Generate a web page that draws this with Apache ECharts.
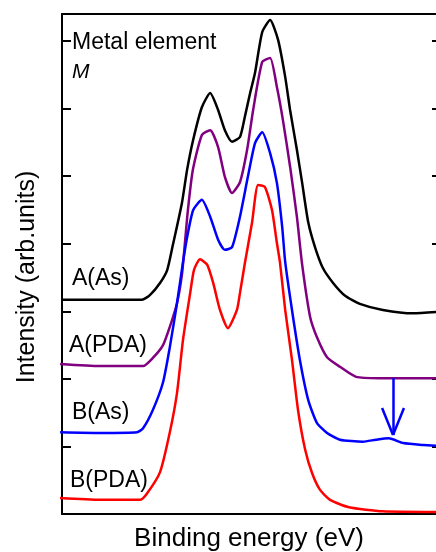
<!DOCTYPE html>
<html>
<head>
<meta charset="utf-8">
<script src="https://cdn.jsdelivr.net/npm/echarts@6/dist/echarts.min.js"></script>
<style>
  html, body { margin: 0; padding: 0; background: #fff; }
  #chart { width: 436px; height: 552px; }
</style>
</head>
<body>
<div id="chart"></div>
<script>
// spectra, [binding energy (arb.), intensity (arb.)]
var seriesNames = ['A(As)', 'A(PDA)', 'B(As)', 'B(PDA)']
var seriesColors = ['#000000', '#800080', '#0000ff', '#ff0000']

var aAs = [
  [0, 3.17], [10.1, 3.17], [21.2, 3.17], [23.3, 3.24], [26.0, 3.42], [27.9, 3.61],
  [29.4, 3.98], [31.8, 4.6], [33.2, 5.1], [34.8, 5.54], [37.1, 6.02], [39.3, 6.23],
  [41.4, 5.98], [43.2, 5.68], [45.1, 5.51], [47.2, 5.58], [48.5, 5.88], [49.9, 6.23],
  [51.2, 6.53], [53.1, 7.13], [55.2, 7.31], [57.3, 7.02], [59.2, 6.47], [60.5, 5.98],
  [62.3, 5.39], [63.7, 4.9], [65.3, 4.32], [67.1, 3.95], [69.2, 3.64], [71.9, 3.42],
  [75.1, 3.23], [79.0, 3.11], [85.1, 3.02], [93.1, 2.97], [99.2, 2.99]
]
var aPda = [
  [-0.5, 2.22], [10.1, 2.19], [21.5, 2.19], [24.1, 2.31], [26.8, 2.5], [28.6, 2.77],
  [30.5, 3.12], [31.8, 3.54], [32.6, 4.01], [33.4, 4.5], [34.7, 5.09], [37.1, 5.61],
  [39.3, 5.68], [41.4, 5.43], [43.2, 4.99], [45.1, 4.75], [47.2, 4.91], [49.1, 5.39],
  [50.7, 5.98], [53.1, 6.69], [55.2, 6.75], [57.0, 6.32], [58.6, 5.83], [60.5, 5.14],
  [62.3, 4.4], [63.7, 3.69], [65.8, 2.92], [67.6, 2.62], [70.3, 2.32], [73.7, 2.18],
  [78.0, 2.03], [84.1, 2.01], [99.2, 2.01]
]
var bAs = [
  [-0.5, 1.21], [10.1, 1.2], [19.9, 1.21], [21.5, 1.27], [24.1, 1.54], [26.8, 1.95],
  [28.6, 2.47], [30.5, 3.12], [32.1, 3.73], [33.2, 4.1], [34.8, 4.5], [37.1, 4.65],
  [39.3, 4.4], [41.4, 4.06], [43.2, 3.91], [45.1, 3.95], [47.2, 4.4], [49.3, 4.99],
  [51.2, 5.49], [53.1, 5.65], [55.2, 5.34], [57.0, 4.9], [58.4, 4.25], [59.2, 3.73],
  [61.0, 3.02], [63.1, 2.28], [65.3, 1.69], [67.6, 1.35], [70.3, 1.2], [73.7, 1.1],
  [79.8, 1.07], [83.3, 1.1], [86.7, 1.12], [90.5, 1.05], [95.8, 1.02], [99.2, 1.01]
]
var bPda = [
  [-1.9, 0.24], [10.1, 0.21], [20.7, 0.21], [22.5, 0.3], [26.0, 0.62], [28.6, 1.21],
  [30.5, 1.79], [32.1, 2.58], [34.0, 3.27], [35.0, 3.61], [36.6, 3.77], [38.5, 3.69],
  [40.1, 3.42], [41.9, 3.02], [44.0, 2.75], [46.4, 3.02], [47.2, 3.27], [48.5, 3.71],
  [50.4, 4.31], [52.0, 4.87], [53.8, 4.84], [55.7, 4.5], [57.0, 4.01], [57.8, 3.73],
  [59.2, 3.02], [61.0, 2.28], [62.6, 1.54], [64.5, 0.95], [66.3, 0.61], [68.4, 0.36],
  [71.1, 0.21], [76.1, 0.1], [85.1, 0.04], [99.2, 0.03]
]
var allData = [aAs, aPda, bAs, bPda]

// arrow marking the extra feature on B(As)
var arrowX = 87.8
var arrowTop = 2.01
var arrowTip = 1.17
var arrowArm = [[84.9, 1.57], [90.7, 1.57]]

var font = 'Arial, "Liberation Sans", sans-serif'

var myChart = echarts.init(document.getElementById('chart'))

var series = allData.map(function(d, i) {
  var s = {
    name: seriesNames[i],
    type: 'line',
    data: d,
    showSymbol: false,
    smooth: 0.2,
    clip: false,
    lineStyle: { color: seriesColors[i], width: 2.5 },
    itemStyle: { color: seriesColors[i] },
    animation: false
  }
  if (i === 2) {
    s.markLine = {
      silent: true,
      symbol: 'none',
      label: { show: false },
      lineStyle: { color: '#0000ff', width: 2.5, type: 'solid' },
      data: [
        [{ coord: [arrowX, arrowTop] }, { coord: [arrowX, arrowTip] }],
        [{ coord: arrowArm[0] }, { coord: [arrowX, arrowTip] }],
        [{ coord: arrowArm[1] }, { coord: [arrowX, arrowTip] }]
      ],
      animation: false
    }
  }
  return s
})

var labelY = [280, 347, 414, 482]
var labelX = [72, 69, 72, 70]
var graphics = [
  { type: 'text', left: 72, top: 31, style: { text: 'Metal element', font: '23px ' + font, fill: '#000' } },
  { type: 'text', left: 72, top: 62, style: { text: 'M', font: 'italic 21px ' + font, fill: '#000' } }
]
seriesNames.forEach(function(n, i) {
  graphics.push({
    type: 'text', left: labelX[i], top: labelY[i] - 13,
    style: { text: n, font: '23px ' + font, fill: '#000' }
  })
})

var axisLine = { show: true, onZero: false, lineStyle: { color: '#000', width: 2 } }

myChart.setOption({
  animation: false,
  grid: { left: 62, top: 14, right: 0, bottom: 38, outerBoundsMode: 'none' },
  xAxis: [
    {
      type: 'value', min: 0, max: 99.2, position: 'bottom',
      axisLine: axisLine, axisTick: { show: false }, axisLabel: { show: false },
      splitLine: { show: false },
      name: 'Binding energy (eV)', nameLocation: 'middle', nameGap: 12,
      nameTextStyle: { fontSize: 26, color: '#000', fontFamily: font }
    },
    {
      type: 'value', min: 0, max: 99.2, position: 'top',
      axisLine: axisLine, axisTick: { show: false }, axisLabel: { show: false },
      splitLine: { show: false }
    }
  ],
  yAxis: [
    {
      type: 'value', min: 0, max: 7.4, interval: 1, position: 'left',
      axisLine: axisLine,
      axisTick: { show: true, inside: true, length: 9, lineStyle: { color: '#000', width: 2 } },
      axisLabel: { show: false }, splitLine: { show: false },
      name: 'Intensity (arb.units)', nameLocation: 'middle', nameGap: 22,
      nameTextStyle: { fontSize: 25, color: '#000', fontFamily: font, padding: [0, 26, 0, 0] }
    },
    {
      // frame line lies just beyond the right edge; only the tick stubs show
      type: 'value', min: 0, max: 7.4, interval: 1, position: 'right',
      axisLine: { show: false, onZero: false },
      axisTick: { show: true, inside: true, length: 4, lineStyle: { color: '#000', width: 2 } },
      axisLabel: { show: false }, splitLine: { show: false }
    }
  ],
  graphic: graphics,
  series: series
})
</script>
</body>
</html>
